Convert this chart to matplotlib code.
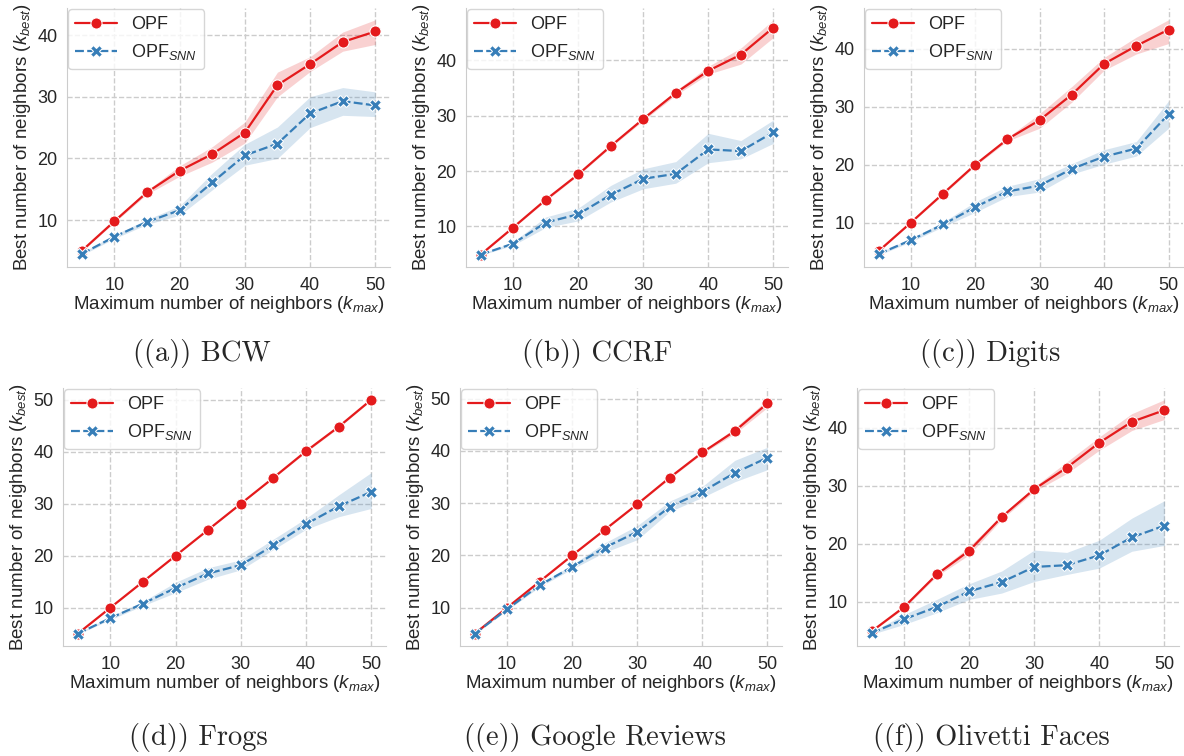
import matplotlib
matplotlib.use("Agg")
import matplotlib.pyplot as plt
from matplotlib.ticker import MultipleLocator
import seaborn as sns

sns.set_style("whitegrid", {"grid.linestyle": "--", "axes.edgecolor": "#cccccc"})
plt.rcParams["font.family"] = ["Liberation Sans", "DejaVu Sans"]
plt.rcParams["mathtext.fontset"] = "custom"
plt.rcParams["mathtext.rm"] = "Liberation Sans"
plt.rcParams["mathtext.it"] = "Liberation Sans:italic"

k_max = [5, 10, 15, 20, 25, 30, 35, 40, 45, 50]

# BCW
bcw_opf = [5.0, 9.8, 14.5, 18.0, 20.7, 24.2, 31.9, 35.3, 38.9, 40.6]
bcw_opf_lo = [4.9, 9.6, 14.2, 17.1, 19.4, 22.5, 30.0, 34.1, 37.4, 38.5]
bcw_opf_hi = [5.1, 10.0, 14.8, 18.8, 21.9, 25.9, 34.0, 36.5, 40.5, 42.5]
bcw_snn = [4.5, 7.3, 9.7, 11.6, 16.1, 20.5, 22.4, 27.3, 29.3, 28.6]
bcw_snn_lo = [4.3, 7.0, 9.3, 10.8, 14.9, 18.9, 20.0, 25.0, 27.0, 26.8]
bcw_snn_hi = [4.7, 7.6, 10.1, 12.3, 17.6, 22.3, 25.1, 30.0, 31.5, 30.8]

# CCRF
ccrf_opf = [4.9, 9.8, 14.8, 19.4, 24.5, 29.4, 34.1, 38.1, 41.0, 45.9]
ccrf_opf_lo = [4.8, 9.7, 14.6, 19.2, 24.3, 29.1, 33.7, 37.5, 39.3, 44.1]
ccrf_opf_hi = [5.0, 9.9, 15.0, 19.6, 24.7, 29.7, 34.5, 38.9, 42.2, 47.3]
ccrf_snn = [4.9, 6.9, 10.7, 12.2, 15.7, 18.6, 19.5, 23.9, 23.6, 27.0]
ccrf_snn_lo = [4.8, 6.6, 9.8, 11.0, 14.4, 16.8, 17.8, 21.5, 22.2, 25.0]
ccrf_snn_hi = [5.0, 7.2, 11.7, 13.3, 17.4, 20.4, 21.7, 26.8, 25.5, 29.2]

# Digits
dig_opf = [5.1, 10.0, 15.0, 20.0, 24.4, 27.7, 32.1, 37.4, 40.5, 43.3]
dig_opf_lo = [5.0, 9.9, 14.8, 19.8, 24.1, 26.3, 30.8, 36.3, 39.1, 40.9]
dig_opf_hi = [5.2, 10.1, 15.2, 20.2, 24.7, 28.8, 33.5, 38.5, 42.0, 45.0]
dig_snn = [4.6, 7.0, 9.7, 12.7, 15.4, 16.4, 19.3, 21.4, 22.8, 28.7]
dig_snn_lo = [4.4, 6.7, 9.3, 11.8, 14.5, 15.3, 18.4, 20.1, 21.5, 26.3]
dig_snn_hi = [4.8, 7.3, 10.1, 13.6, 16.3, 17.6, 20.2, 22.6, 24.0, 31.0]

# Frogs
frog_opf = [5.0, 10.0, 15.0, 20.0, 25.0, 30.0, 35.0, 40.1, 44.8, 50.0]
frog_opf_lo = [4.95, 9.95, 14.95, 19.95, 24.95, 29.95, 34.9, 39.9, 44.6, 49.9]
frog_opf_hi = [5.05, 10.05, 15.05, 20.05, 25.05, 30.05, 35.1, 40.3, 45.0, 50.0]
frog_snn = [5.0, 8.0, 10.8, 13.8, 16.6, 18.2, 22.0, 26.1, 29.5, 32.3]
frog_snn_lo = [4.9, 7.7, 10.4, 12.9, 15.5, 17.3, 21.2, 25.1, 27.5, 29.1]
frog_snn_hi = [5.1, 8.3, 11.2, 14.9, 17.7, 19.2, 23.2, 27.2, 31.7, 36.0]

# Google Reviews
goog_opf = [5.0, 10.0, 15.0, 20.0, 24.9, 29.8, 34.9, 39.7, 43.8, 49.1]
goog_opf_lo = [4.95, 9.9, 14.9, 19.9, 24.8, 29.7, 34.7, 39.5, 43.3, 48.3]
goog_opf_hi = [5.05, 10.1, 15.1, 20.1, 25.0, 29.9, 35.1, 39.9, 44.4, 49.8]
goog_snn = [5.0, 9.7, 14.3, 17.8, 21.5, 24.5, 29.3, 32.2, 35.8, 38.7]
goog_snn_lo = [4.9, 9.5, 14.0, 17.4, 20.6, 23.0, 28.4, 31.1, 34.1, 36.4]
goog_snn_hi = [5.1, 9.9, 14.6, 18.2, 22.4, 25.7, 30.4, 33.2, 38.2, 40.7]

# Olivetti Faces
oli_opf = [4.9, 9.1, 14.7, 18.8, 24.6, 29.4, 33.1, 37.4, 41.0, 43.0]
oli_opf_lo = [4.8, 8.9, 14.4, 18.1, 24.2, 29.0, 32.1, 36.1, 39.5, 41.4]
oli_opf_hi = [5.0, 9.3, 15.0, 19.5, 25.0, 29.8, 34.1, 38.4, 42.4, 44.8]
oli_snn = [4.6, 7.0, 9.1, 11.8, 13.4, 16.0, 16.3, 18.0, 21.1, 23.1]
oli_snn_lo = [4.4, 6.1, 8.1, 10.4, 11.5, 13.5, 14.7, 15.8, 18.7, 19.7]
oli_snn_hi = [4.8, 7.8, 10.4, 13.1, 15.3, 18.9, 18.5, 20.6, 24.4, 27.4]

captions = ["((a)) BCW", "((b)) CCRF", "((c)) Digits",
            "((d)) Frogs", "((e)) Google Reviews", "((f)) Olivetti Faces"]

panels = [
    (bcw_opf, bcw_opf_lo, bcw_opf_hi, bcw_snn, bcw_snn_lo, bcw_snn_hi),
    (ccrf_opf, ccrf_opf_lo, ccrf_opf_hi, ccrf_snn, ccrf_snn_lo, ccrf_snn_hi),
    (dig_opf, dig_opf_lo, dig_opf_hi, dig_snn, dig_snn_lo, dig_snn_hi),
    (frog_opf, frog_opf_lo, frog_opf_hi, frog_snn, frog_snn_lo, frog_snn_hi),
    (goog_opf, goog_opf_lo, goog_opf_hi, goog_snn, goog_snn_lo, goog_snn_hi),
    (oli_opf, oli_opf_lo, oli_opf_hi, oli_snn, oli_snn_lo, oli_snn_hi),
]

RED = "#e41a1c"
BLUE = "#377eb8"
W, H = 1184, 756

# axes boxes in pixels: left, right, top, bottom
boxes = [(67, 390, 8, 267), (466, 788, 8, 267), (864, 1183, 8, 267),
         (63, 386, 388, 646), (460, 782, 388, 646), (857, 1179, 388, 646)]
cap_pos = [(202, 354), (597, 354), (990, 354), (198, 738), (595, 738), (991, 738)]

fig = plt.figure(figsize=(W / 100, H / 100), dpi=100)

for i, (opf, opf_lo, opf_hi, snn, snn_lo, snn_hi) in enumerate(panels):
    l, r, t, b = boxes[i]
    ax = fig.add_axes([l / W, 1 - b / H, (r - l) / W, (b - t) / H])
    ax.fill_between(k_max, opf_lo, opf_hi, color=RED, alpha=0.2, lw=0)
    ax.fill_between(k_max, snn_lo, snn_hi, color=BLUE, alpha=0.2, lw=0)
    ax.plot(k_max, opf, color=RED, lw=1.6, marker="o", ms=8,
            mec="w", mew=0.75, label="OPF")
    ax.plot(k_max, snn, color=BLUE, lw=1.6, marker="X", ms=8,
            mec="w", mew=0.75, dashes=(4, 1.5), label="OPF$_{SNN}$")
    ax.xaxis.set_major_locator(MultipleLocator(10))
    ax.yaxis.set_major_locator(MultipleLocator(10))
    ax.tick_params(labelsize=13, colors="#262626", length=0, pad=7)
    ax.set_xlabel("Maximum number of neighbors ($k_{max}$)", fontsize=13.5,
                  color="#262626", labelpad=0)
    ax.set_ylabel("Best number of neighbors ($k_{best}$)", fontsize=13.5,
                  color="#262626", labelpad=3)
    for s in ["top", "right"]:
        ax.spines[s].set_visible(False)
    ax.grid(True, color="#cccccc", ls="--", lw=1)
    leg = ax.legend(loc="upper left", fontsize=13, borderaxespad=0.05,
                    handlelength=2.3, frameon=True)
    leg.get_frame().set_edgecolor("#cccccc")
    cx, cy = cap_pos[i]
    fig.text(cx / W, 1 - cy / H, captions[i], ha="center", va="center",
             fontsize=20.5, family="cmr10")

fig.savefig("out.png", dpi=100)
